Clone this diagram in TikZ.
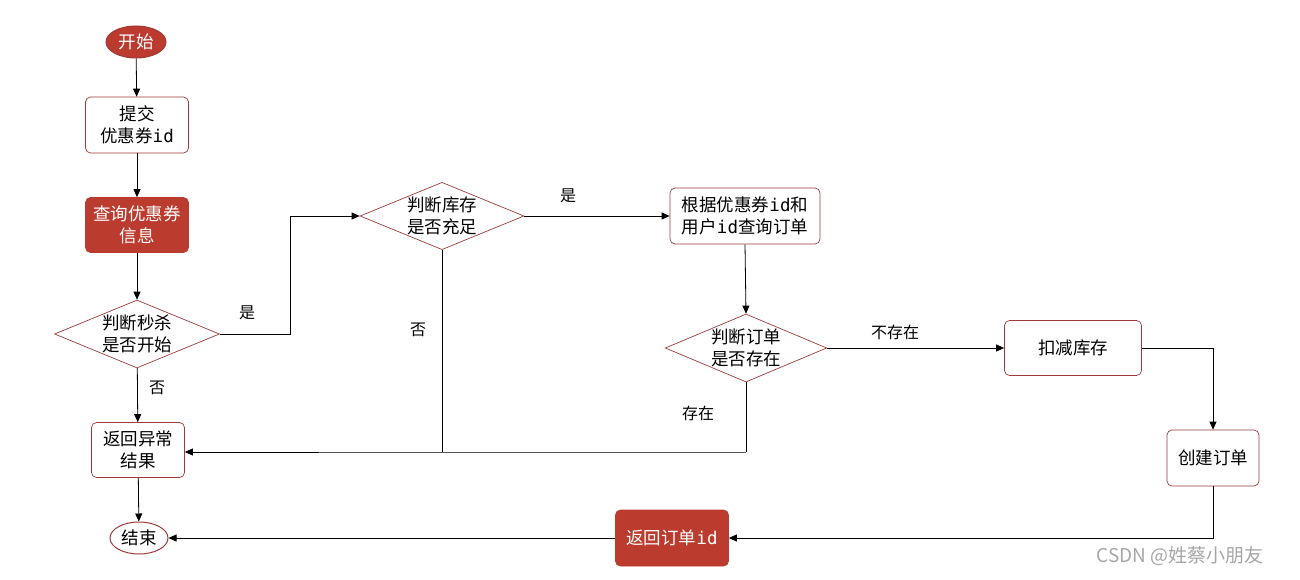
\documentclass[tikz,border=0pt]{standalone}
\usepackage{fontspec}
\setmainfont{Noto Sans CJK SC}
\newfontfamily\monof{DejaVu Sans Mono}
\newcommand{\ID}{{\monof id}}
\usetikzlibrary{shapes.geometric,arrows.meta}
\definecolor{dred}{HTML}{BB3B2E}
\definecolor{bred}{HTML}{9E3A3A}
\tikzset{
  box/.style={draw=bred,rounded corners=5pt,fill=white,align=center,font=\fontsize{17.5}{22}\selectfont,inner sep=0pt,line width=0.7pt},
  rbox/.style={box,fill=dred,draw=dred,text=white},
  dia/.style={diamond,draw=bred,aspect=2.4,fill=white,align=center,font=\fontsize{17.5}{22}\selectfont,inner sep=0pt,line width=0.7pt},
  term/.style={ellipse,draw=bred,align=center,font=\fontsize{17.5}{22}\selectfont,inner sep=0pt,line width=1pt},
  arr/.style={-{Triangle[length=8pt,width=7pt]},line width=0.8pt},
  lab/.style={font=\fontsize{16}{20}\selectfont}
}
\begin{document}
\begin{tikzpicture}[x=1pt,y=-1pt]
\useasboundingbox (0,0) rectangle (1300,580);
\node[term,fill=dred,text=white,minimum width=60pt,minimum height=32pt] (start) at (136,42) {开始};
\node[box,minimum width=103pt,minimum height=56pt] (submit) at (137,125) {提交\\优惠券\ID};
\node[rbox,minimum width=103pt,minimum height=55pt] (query) at (137,225) {查询优惠券\\信息};
\node[dia,minimum width=165pt,minimum height=68pt] (kill) at (137,334) {判断秒杀\\是否开始};
\node[box,minimum width=93pt,minimum height=55pt] (err) at (138,450) {返回异常\\结果};
\node[term,fill=white,minimum width=58pt,minimum height=32pt] (end) at (139,538) {结束};
\node[dia,minimum width=164pt,minimum height=67pt] (stock) at (442,216) {判断库存\\是否充足};
\node[box,minimum width=150pt,minimum height=56pt] (qorder) at (745,216) {根据优惠券\ID 和\\用户\ID 查询订单};
\node[dia,minimum width=159pt,minimum height=68pt] (exist) at (746,348) {判断订单\\是否存在};
\node[box,minimum width=137pt,minimum height=55pt] (deduct) at (1073,348) {扣减库存};
\node[box,minimum width=92pt,minimum height=56pt] (create) at (1213,458) {创建订单};
\node[rbox,minimum width=113pt,minimum height=56pt] (ret) at (672,538) {返回订单\ID};
\coordinate (j1) at (442,452);
\coordinate (j2) at (746,452);

\draw[arr] (start) -- (submit);
\draw[arr] (submit) -- (query);
\draw[arr] (query) -- (kill);
\draw[arr] (kill) -- (err);
\draw[arr] (kill.east) -- (290,334) |- (stock.west);
\draw[arr] (stock.east) -- (qorder.west);
\draw[line width=0.8pt] (stock.south) -- (j1);
\draw[arr] (j2) -- (j1) -- (err.east |- j1);
\draw[line width=0.8pt] (exist.south) -- (j2);
\draw[arr] (qorder.south) -- (exist.north);
\draw[arr] (exist.east) -- (deduct.west);
\draw[arr] (deduct.east) -| (create.north);
\draw[arr] (create.south) |- (ret.east);
\draw[arr] (ret.west) -- (end.east);
\draw[arr] (err) -- (end);

\node[lab] (l1) at (157,388) {否};
\node[lab] (l2) at (247,313) {是};
\node[lab] (l3) at (568,196) {是};
\node[lab] (l4) at (418,330) {否};
\node[lab] (l5) at (895,332) {不存在};
\node[lab] (l6) at (698,413) {存在};
\node[lab,text=gray!70,font=\fontsize{19}{20}\selectfont] (wm) at (1180,556) {CSDN @姓蔡小朋友};
\end{tikzpicture}
\end{document}
